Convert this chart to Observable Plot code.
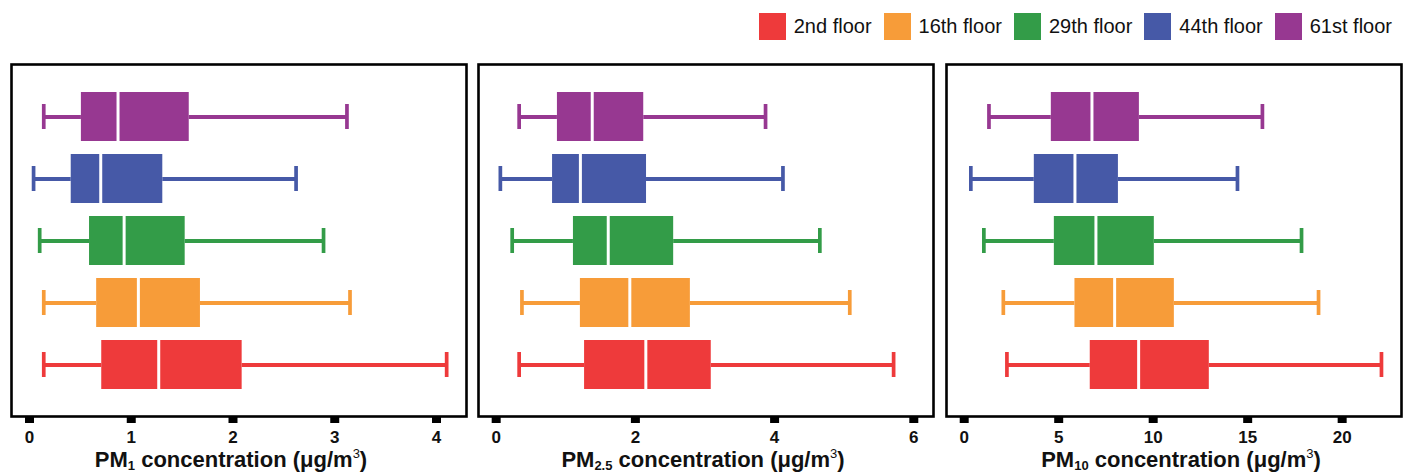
<!DOCTYPE html>
<html>
<head>
<meta charset="utf-8">
<script src="https://cdn.jsdelivr.net/npm/d3@7"></script>
<script src="https://cdn.jsdelivr.net/npm/@observablehq/plot@0.6"></script>
<style>
  html, body { margin: 0; padding: 0; background: white; }
  body { width: 1406px; height: 476px; position: relative; overflow: hidden; font-family: "Liberation Sans", Arial, sans-serif; }
  #legend { position: absolute; top: 13px; right: 14px; display: flex; align-items: center; gap: 12px; font-size: 20px; color: #111; }
  .item { display: flex; align-items: center; gap: 8px; }
  .sw { width: 27px; height: 27px; display: inline-block; }
  .panel { position: absolute; top: 50px; width: 475px; height: 410px; }
  .panel svg { background: transparent !important; overflow: visible; max-width: none !important; width: 475px; height: 410px; }
  .xlabel { position: absolute; top: 447px; font-size: 22px; font-weight: bold; color: #111; white-space: nowrap; line-height: 26px; transform: translateX(-50%); }
  .xlabel sub { font-size: 13px; vertical-align: -3px; line-height: 0; }
  .xlabel sup { font-size: 13px; vertical-align: 9px; line-height: 0; font-weight: normal; }
</style>
</head>
<body>
<div id="legend"></div>
<div id="p1" class="panel"></div>
<div id="p2" class="panel"></div>
<div id="p3" class="panel"></div>
<div class="xlabel" style="left:231px">PM<sub>1</sub> concentration (μg/m<sup>3</sup>)</div>
<div class="xlabel" style="left:703px">PM<sub>2.5</sub> concentration (μg/m<sup>3</sup>)</div>
<div class="xlabel" style="left:1181px">PM<sub>10</sub> concentration (μg/m<sup>3</sup>)</div>
<script>
// ---- data (order: 2nd, 16th, 29th, 44th, 61st floor) ----
const floors = ["2nd floor", "16th floor", "29th floor", "44th floor", "61st floor"];
const colors = ["#EE3A3B", "#F79C39", "#339C48", "#4659A7", "#973891"];

const pm1Min = [0.14, 0.14, 0.10, 0.04, 0.14];
const pm1Q1  = [0.71, 0.66, 0.59, 0.41, 0.51];
const pm1Med = [1.27, 1.07, 0.93, 0.70, 0.87];
const pm1Q3  = [2.09, 1.68, 1.53, 1.31, 1.57];
const pm1Max = [4.10, 3.15, 2.89, 2.62, 3.12];

const pm25Min = [0.33, 0.37, 0.23, 0.06, 0.33];
const pm25Q1  = [1.27, 1.21, 1.11, 0.81, 0.88];
const pm25Med = [2.15, 1.92, 1.61, 1.21, 1.38];
const pm25Q3  = [3.09, 2.79, 2.55, 2.16, 2.12];
const pm25Max = [5.71, 5.08, 4.65, 4.12, 3.87];

const pm10Min = [2.26, 2.07, 1.04, 0.35, 1.31];
const pm10Q1  = [6.67, 5.86, 4.77, 3.71, 4.61];
const pm10Med = [9.23, 7.96, 6.97, 5.86, 6.76];
const pm10Q3  = [12.97, 11.12, 10.06, 8.16, 9.27];
const pm10Max = [22.08, 18.75, 17.85, 14.46, 15.78];

const pm1Ticks = [0, 1, 2, 3, 4];
const pm25Ticks = [0, 2, 4, 6];
const pm10Ticks = [0, 5, 10, 15, 20];

// ---- legend ----
const legend = document.getElementById("legend");
floors.forEach((f, i) => {
  const it = document.createElement("div");
  it.className = "item";
  it.innerHTML = `<span class="sw" style="background:${colors[i]}"></span><span>${f}</span>`;
  legend.appendChild(it);
});

function rows(mn, q1, md, q3, mx) {
  return floors.map((f, i) => ({floor: f, min: mn[i], q1: q1[i], med: md[i], q3: q3[i], max: mx[i]}));
}

function panel(el, left, data, domain, ticks) {
  const node = Plot.plot({
    width: 475,
    height: 410,
    marginLeft: 10,
    marginRight: 10,
    marginTop: 14,
    marginBottom: 44,
    style: {fontFamily: "'Liberation Sans', Arial, sans-serif", fontWeight: "bold", color: "#111", background: "transparent"},
    x: {domain, label: null},
    y: {domain: [...floors].reverse(), axis: null, paddingInner: 0.21, paddingOuter: 0.4},
    color: {domain: floors, range: colors},
    marks: [
      Plot.ruleY(data, {y: "floor", x1: "min", x2: "q1", stroke: "floor", strokeWidth: 4}),
      Plot.ruleY(data, {y: "floor", x1: "q3", x2: "max", stroke: "floor", strokeWidth: 4}),
      Plot.tickX(data, {y: "floor", x: "min", stroke: "floor", strokeWidth: 3.7, insetTop: 12, insetBottom: 12}),
      Plot.tickX(data, {y: "floor", x: "max", stroke: "floor", strokeWidth: 3.7, insetTop: 12, insetBottom: 12}),
      Plot.barX(data, {y: "floor", x1: "q1", x2: "q3", fill: "floor"}),
      Plot.tickX(data, {y: "floor", x: "med", stroke: "white", strokeWidth: 3}),
      Plot.frame({stroke: "black", strokeWidth: 2.6}),
      Plot.axisX(ticks, {tickSize: 7, tickPadding: 7, strokeWidth: 9, fontSize: 17, fontWeight: "bold", stroke: "black", fill: "#111"})
    ]
  });
  const d = document.getElementById(el);
  d.style.left = left + "px";
  d.appendChild(node);
}

panel("p1", 1, rows(pm1Min, pm1Q1, pm1Med, pm1Q3, pm1Max), [-0.177, 4.295], pm1Ticks);
panel("p2", 468, rows(pm25Min, pm25Q1, pm25Med, pm25Q3, pm25Max), [-0.254, 6.283], pm25Ticks);
panel("p3", 936, rows(pm10Min, pm10Q1, pm10Med, pm10Q3, pm10Max), [-0.937, 23.14], pm10Ticks);
</script>
</body>
</html>
